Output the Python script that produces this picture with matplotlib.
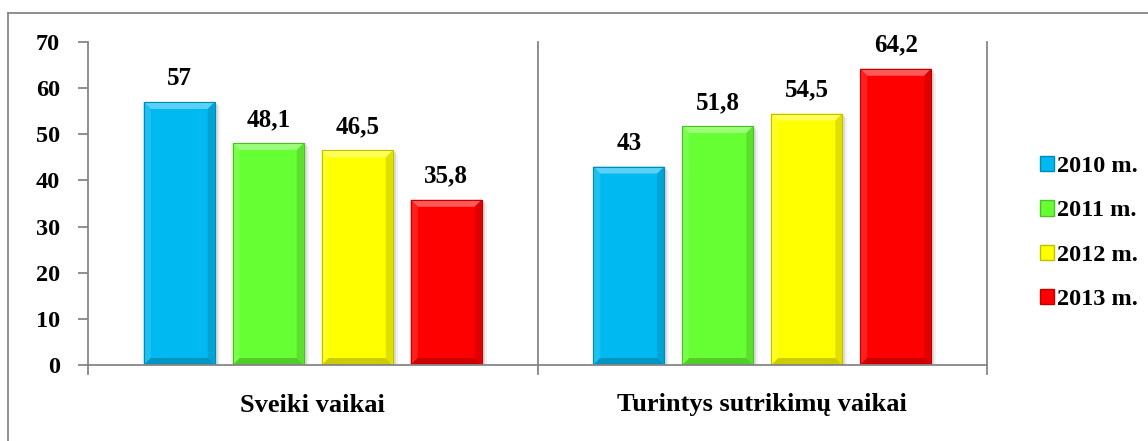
import matplotlib
matplotlib.use("Agg")
import matplotlib.pyplot as plt
from matplotlib.patches import Patch, Polygon, Rectangle
from matplotlib.lines import Line2D
import numpy as np

categories = ["Sveiki vaikai", "Turintys sutrikimų vaikai"]
series_names = ["2010 m.", "2011 m.", "2012 m.", "2013 m."]
values = {
    "2010 m.": [57, 43],
    "2011 m.": [48.1, 51.8],
    "2012 m.": [46.5, 54.5],
    "2013 m.": [35.8, 64.2],
}
value_labels = {
    "2010 m.": ["57", "43"],
    "2011 m.": ["48,1", "51,8"],
    "2012 m.": ["46,5", "54,5"],
    "2013 m.": ["35,8", "64,2"],
}
colors = ["#00B9F1", "#66FF33", "#FFFF00", "#FF0000"]
yticks = [0, 10, 20, 30, 40, 50, 60, 70]

plt.rcParams['font.family'] = ['Liberation Serif', 'DejaVu Serif']
plt.rcParams['font.weight'] = 'bold'

W, H = 1148, 441
fig = plt.figure(figsize=(W / 100, H / 100), dpi=100)
ax = fig.add_axes([88 / W, (H - 365) / H, 899 / W, 323 / H])

grey = "#868686"
ax.set_xlim(-0.5, 1.5)
ax.set_ylim(0, 70)

pxx = 899 / 2.0   # px per x unit
pxy = 323 / 70.0  # px per y unit

def lighten(c, f):
    c = np.array(matplotlib.colors.to_rgb(c))
    return tuple(c + (1 - c) * f)

def darken(c, f):
    c = np.array(matplotlib.colors.to_rgb(c))
    return tuple(c * (1 - f))

bw = 0.158
offsets = [-0.297, -0.099, 0.099, 0.297]
x = np.arange(len(categories))
for i, s in enumerate(series_names):
    xs = x + offsets[i]
    for xi, v in zip(xs, values[s]):
        ax.add_patch(Rectangle((xi - bw / 2 + 3 / pxx, -2 / pxy), bw, v,
                               facecolor="#b0b0b0", alpha=0.35, edgecolor="none", zorder=1))
        ax.add_patch(Rectangle((xi - bw / 2 + 5 / pxx, -4 / pxy), bw, v,
                               facecolor="#c8c8c8", alpha=0.25, edgecolor="none", zorder=1))
    ax.bar(xs, values[s], bw, color=colors[i], edgecolor=darken(colors[i], 0.25),
           linewidth=0.8, zorder=2, label=s)
    for xi, v, lab in zip(xs, values[s], value_labels[s]):
        l, r = xi - bw / 2, xi + bw / 2
        dx, dy = 7 / pxx, 7 / pxy
        ax.add_patch(Polygon([(l, v), (r, v), (r - dx, v - dy), (l + dx, v - dy)],
                             closed=True, facecolor=lighten(colors[i], 0.35),
                             edgecolor="none", zorder=3))
        ax.add_patch(Polygon([(l, v), (l + dx, v - dy), (l + dx, dy), (l, 0)],
                             closed=True, facecolor=lighten(colors[i], 0.12),
                             edgecolor="none", zorder=3))
        ax.add_patch(Polygon([(r, v), (r - dx, v - dy), (r - dx, dy), (r, 0)],
                             closed=True, facecolor=darken(colors[i], 0.12),
                             edgecolor="none", zorder=3))
        ax.add_patch(Polygon([(l, 0), (r, 0), (r - dx, dy), (l + dx, dy)],
                             closed=True, facecolor=darken(colors[i], 0.2),
                             edgecolor="none", zorder=3))
        ax.add_patch(Rectangle((l, 0), bw, v, facecolor="none",
                               edgecolor=darken(colors[i], 0.25), linewidth=0.8, zorder=4))
        ax.text(xi, v + 17 / pxy, lab, ha="center", va="baseline",
                fontsize=18, fontweight="bold", zorder=5)

for side in ["top", "right", "bottom"]:
    ax.spines[side].set_visible(False)
ax.spines["left"].set_color(grey)
ax.spines["left"].set_linewidth(1.3)
ax.set_yticks(yticks)
ax.set_yticklabels([str(t) for t in yticks], fontsize=17.5, fontweight="bold")
ax.tick_params(axis="y", direction="out", length=7, width=1.3, color=grey, pad=13)
ax.set_xticks([])
ax.axhline(0, color=grey, linewidth=1.3, zorder=6, clip_on=False)
for b in [0.5, 1.5]:
    ax.plot([b, b], [0, 70], color=grey, linewidth=1.3, zorder=0.5, clip_on=False)
for b in [-0.5, 0.5, 1.5]:
    ax.plot([b, b], [0, -9 / pxy], color=grey, linewidth=1.3, zorder=6, clip_on=False)

for xi, c in zip(x, categories):
    ax.text(xi, -40 / pxy, c, ha="center", va="center", fontsize=19, fontweight="bold")

handles = [Patch(facecolor=colors[i], edgecolor=darken(colors[i], 0.25), label=s)
           for i, s in enumerate(series_names)]
leg = fig.legend(handles=handles, loc="center left",
                 bbox_to_anchor=(1030 / W, (H - 233) / H),
                 frameon=False, fontsize=17.5, handlelength=0.6, handleheight=0.6,
                 handletextpad=0.1, labelspacing=0.95, borderaxespad=0)
for t in leg.get_texts():
    t.set_fontweight("bold")

fig.add_artist(Line2D([8 / W, 8 / W], [0, (H - 13) / H], color=grey, linewidth=1.3,
                      transform=fig.transFigure))
fig.add_artist(Line2D([8 / W, 1], [(H - 13) / H, (H - 13) / H], color=grey, linewidth=1.3,
                      transform=fig.transFigure))

fig.savefig("out.png", dpi=100)
